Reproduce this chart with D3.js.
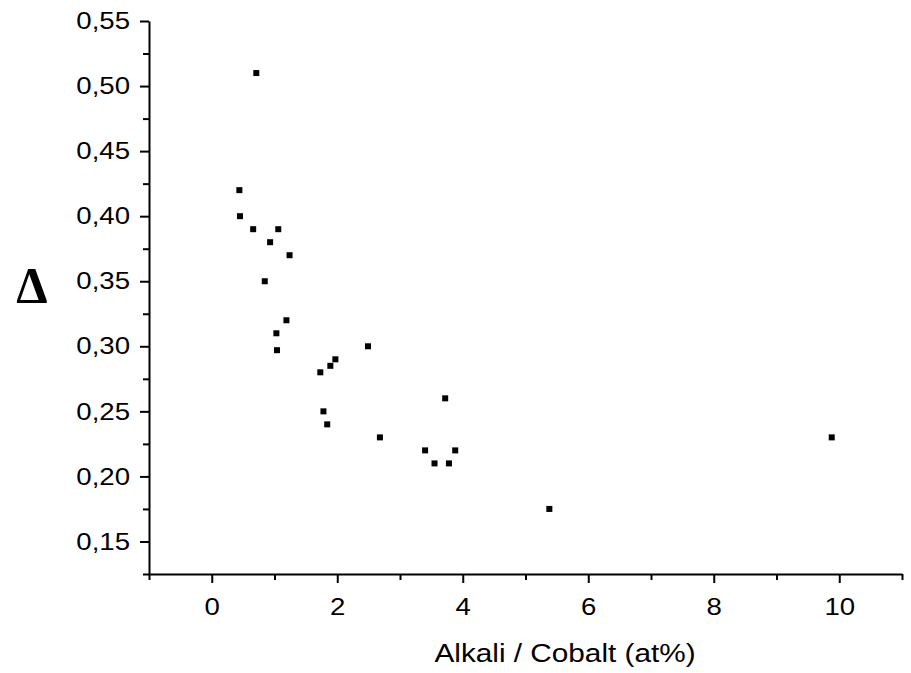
<!DOCTYPE html>
<html>
<head>
<meta charset="utf-8">
<script src="https://cdn.jsdelivr.net/npm/d3@7"></script>
<style>
  body { margin: 0; background: #fff; }
  text { font-family: "Liberation Sans", Arial, sans-serif; }
</style>
</head>
<body>
<div id="chart"></div>
<script>
'use strict';

// alkali / cobalt ratio (at%)
const ratio = [0.71, 0.44, 0.45, 0.66, 1.06, 0.93, 1.24, 0.845, 1.19, 1.03, 1.04,
  1.73, 1.89, 1.97, 2.49, 1.78, 1.84, 2.68, 3.72, 3.40, 3.55, 3.78, 3.88, 5.38, 9.88];
// delta
const delta = [0.51, 0.42, 0.40, 0.39, 0.39, 0.38, 0.37, 0.35, 0.32, 0.31, 0.297,
  0.28, 0.285, 0.29, 0.30, 0.25, 0.24, 0.23, 0.26, 0.22, 0.21, 0.21, 0.22, 0.175, 0.23];

const xTicks = [0, 2, 4, 6, 8, 10];
const xMinor = [-1, 1, 3, 5, 7, 9, 11];
const yTicks = [0.15, 0.20, 0.25, 0.30, 0.35, 0.40, 0.45, 0.50, 0.55];
const yMinor = [0.125, 0.175, 0.225, 0.275, 0.325, 0.375, 0.425, 0.475, 0.525];

const W = 911, H = 673;
const margin = { top: 21, right: 9, bottom: 99, left: 149 };
const stretch = 1.15; // the original text is drawn a bit wide

const svg = d3.select('#chart').append('svg')
  .attr('width', W)
  .attr('height', H);

const x = d3.scaleLinear().domain([-1, 11]).range([margin.left, W - margin.right]);
const y = d3.scaleLinear().domain([0.125, 0.55]).range([H - margin.bottom, margin.top]);

const fmt = d => d3.format('.2f')(d).replace('.', ',');

// minor ticks first, majors on top
svg.append('g')
  .attr('transform', `translate(0, ${y.range()[0]})`)
  .call(d3.axisBottom(x).tickValues(xMinor).tickSize(6).tickFormat(''))
  .call(g => g.selectAll('path').remove())
  .call(g => g.selectAll('line').attr('stroke-width', 2));

svg.append('g')
  .attr('transform', `translate(${x.range()[0]}, 0)`)
  .call(d3.axisLeft(y).tickValues(yMinor).tickSize(6).tickFormat(''))
  .call(g => g.selectAll('path').remove())
  .call(g => g.selectAll('line').attr('stroke-width', 2));

const xAxis = svg.append('g')
  .attr('transform', `translate(0, ${y.range()[0]})`)
  .call(d3.axisBottom(x).tickValues(xTicks).tickSize(9).tickSizeOuter(0));

const yAxis = svg.append('g')
  .attr('transform', `translate(${x.range()[0]}, 0)`)
  .call(d3.axisLeft(y).tickValues(yTicks).tickSize(9).tickSizeOuter(0).tickFormat(fmt));

[xAxis, yAxis].forEach(g => {
  g.select('.domain').attr('stroke-width', 2);
  g.selectAll('line').attr('stroke-width', 2);
  g.selectAll('text')
    .attr('fill', '#000')
    .attr('transform', `scale(${stretch},1)`)
    .style('font-size', '24px')
    .style('font-family', '"Liberation Sans", Arial, sans-serif');
});
xAxis.selectAll('text').attr('y', 41).attr('dy', null);
yAxis.selectAll('text').attr('x', -19 / stretch);

// points
const sq = 6;
svg.append('g')
  .selectAll('rect')
  .data(d3.zip(ratio, delta))
  .join('rect')
  .attr('x', d => x(d[0]) - sq / 2)
  .attr('y', d => y(d[1]) - sq / 2)
  .attr('width', sq)
  .attr('height', sq)
  .attr('fill', '#000');

// titles
svg.append('text')
  .attr('transform', 'translate(565, 662) scale(1.19, 1)')
  .attr('text-anchor', 'middle')
  .style('font-size', '25px')
  .text('Alkali / Cobalt (at%)');

svg.append('text')
  .attr('x', 32)
  .attr('y', 302)
  .attr('text-anchor', 'middle')
  .style('font-family', '"Liberation Serif", "Times New Roman", serif')
  .style('font-weight', 'bold')
  .style('font-size', '50px')
  .text('Δ');
</script>
</body>
</html>
